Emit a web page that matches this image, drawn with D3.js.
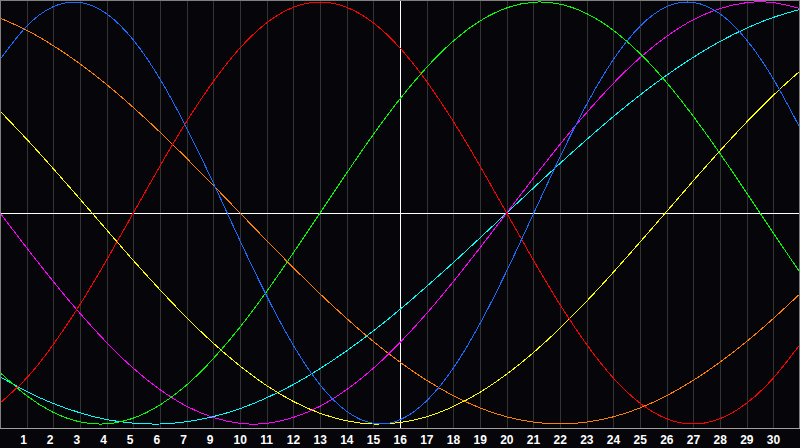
<!DOCTYPE html>
<html>
<head>
<meta charset="utf-8">
<script src="https://cdn.jsdelivr.net/npm/d3@7"></script>
<style>
  html, body { margin: 0; padding: 0; background: #05050a; }
  svg { display: block; }
</style>
</head>
<body>
<svg id="chart" width="800" height="448"></svg>
<script>
// Day slots 0..30 (one value per day gridline)
const days = d3.range(0, 31);

// Tick labels shown under gridlines 1..29 (label "8" is absent in the original)
const tickLabels = ["1","2","3","4","5","6","7","9","10","11","12","13","14","15","16","17","18","19","20","21","22","23","24","25","26","27","28","29","30"];

// Series values (range -1..1), one per day slot
const blueValues    = [0.727,0.885,0.978,0.998,0.944,0.820,0.635,0.403,0.142,-0.131,-0.393,-0.627,-0.814,-0.940,-0.997,-0.980,-0.890,-0.735,-0.524,-0.275,-0.005,0.265,0.515,0.727,0.885,0.978,0.998,0.944,0.820,0.635,0.403];
const redValues     = [-0.901,-0.782,-0.623,-0.434,-0.223,0,0.223,0.434,0.623,0.782,0.901,0.975,1,0.975,0.901,0.782,0.623,0.434,0.223,0,-0.223,-0.434,-0.623,-0.782,-0.901,-0.975,-1,-0.975,-0.901,-0.782,-0.623];
const greenValues   = [-0.756,-0.866,-0.945,-0.990,-0.999,-0.972,-0.910,-0.815,-0.690,-0.541,-0.372,-0.189,0,0.189,0.372,0.541,0.690,0.815,0.910,0.972,0.999,0.990,0.945,0.866,0.756,0.618,0.458,0.282,0.095,-0.095,-0.282];
const magentaValues = [0,-0.165,-0.325,-0.476,-0.614,-0.736,-0.837,-0.916,-0.969,-0.997,-0.997,-0.969,-0.916,-0.837,-0.736,-0.614,-0.476,-0.325,-0.165,0,0.165,0.325,0.476,0.614,0.736,0.837,0.916,0.969,0.997,0.997,0.969];
const yellowValues  = [0.483,0.350,0.210,0.066,-0.080,-0.225,-0.364,-0.496,-0.617,-0.725,-0.818,-0.893,-0.949,-0.985,-1.000,-0.993,-0.966,-0.917,-0.850,-0.764,-0.662,-0.546,-0.418,-0.281,-0.138,0.007,0.153,0.295,0.431,0.558,0.673];
const orangeValues  = [0.924,0.866,0.793,0.707,0.609,0.5,0.383,0.259,0.131,0,-0.131,-0.259,-0.383,-0.5,-0.609,-0.707,-0.793,-0.866,-0.924,-0.966,-0.991,-1,-0.991,-0.966,-0.924,-0.866,-0.793,-0.707,-0.609,-0.5,-0.383];
const cyanValues    = [-0.776,-0.846,-0.903,-0.947,-0.979,-0.996,-1.000,-0.989,-0.965,-0.927,-0.876,-0.813,-0.738,-0.653,-0.559,-0.457,-0.348,-0.235,-0.118,0,0.118,0.235,0.348,0.457,0.559,0.653,0.738,0.813,0.876,0.927,0.965];

const series = [
  { name: "cyan",    values: cyanValues,    color: "#00ffff" },
  { name: "orange",  values: orangeValues,  color: "#ff8000" },
  { name: "yellow",  values: yellowValues,  color: "#ffff00" },
  { name: "magenta", values: magentaValues, color: "#ff00ff" },
  { name: "green",   values: greenValues,   color: "#00ff00" },
  { name: "red",     values: redValues,     color: "#ff0000" },
  { name: "blue",    values: blueValues,    color: "#1a6cff" }
];

const todaySlot = 15;

const W = 800, H = 448, plotBottom = 428;
const svg = d3.select("#chart");

const x = d3.scaleLinear().domain([0, 30]).range([0, 800]);
const y = d3.scaleLinear().domain([-1, 1]).range([424, 2]);

svg.append("rect").attr("width", W).attr("height", H).attr("fill", "#05050a");

// vertical day gridlines
svg.append("g")
  .selectAll("line")
  .data(d3.range(1, 30))
  .join("line")
  .attr("x1", d => Math.round(x(d)) + 0.5)
  .attr("x2", d => Math.round(x(d)) + 0.5)
  .attr("y1", 0).attr("y2", plotBottom)
  .attr("stroke", "#333333").attr("stroke-width", 1)
  .attr("shape-rendering", "crispEdges");

// centre lines
svg.append("line")
  .attr("x1", 0).attr("x2", W)
  .attr("y1", Math.round(y(0)) + 0.5).attr("y2", Math.round(y(0)) + 0.5)
  .attr("stroke", "#ffffff").attr("shape-rendering", "crispEdges");
svg.append("line")
  .attr("x1", Math.round(x(todaySlot)) + 0.5).attr("x2", Math.round(x(todaySlot)) + 0.5)
  .attr("y1", 0).attr("y2", plotBottom)
  .attr("stroke", "#ffffff").attr("shape-rendering", "crispEdges");

// curves
const line = d3.line()
  .x((v, i) => x(days[i]))
  .y(v => y(v))
  .curve(d3.curveNatural);

svg.append("g")
  .selectAll("path")
  .data(series)
  .join("path")
  .attr("d", s => line(s.values))
  .attr("fill", "none")
  .attr("stroke", s => s.color)
  .attr("stroke-width", 1)
  .attr("shape-rendering", "crispEdges");

// frame
svg.append("line").attr("x1", 0).attr("x2", W).attr("y1", 0.5).attr("y2", 0.5)
  .attr("stroke", "#808080").attr("shape-rendering", "crispEdges");
svg.append("line").attr("x1", 0.5).attr("x2", 0.5).attr("y1", 0).attr("y2", plotBottom)
  .attr("stroke", "#808080").attr("shape-rendering", "crispEdges");
svg.append("line").attr("x1", W - 0.5).attr("x2", W - 0.5).attr("y1", 0).attr("y2", plotBottom)
  .attr("stroke", "#808080").attr("shape-rendering", "crispEdges");
svg.append("line").attr("x1", 0).attr("x2", W).attr("y1", plotBottom + 0.5).attr("y2", plotBottom + 0.5)
  .attr("stroke", "#a0a0a0").attr("stroke-width", 1.5).attr("shape-rendering", "crispEdges");

// tick labels
svg.append("g")
  .selectAll("text")
  .data(tickLabels)
  .join("text")
  .attr("x", (t, i) => x(i + 1) - 6.5)
  .attr("y", 444)
  .attr("text-anchor", "start")
  .attr("fill", "#ffffff")
  .attr("font-family", "'Liberation Sans', Arial, sans-serif")
  .attr("font-weight", "bold")
  .attr("font-size", "12px")
  .text(t => t);
</script>
</body>
</html>
